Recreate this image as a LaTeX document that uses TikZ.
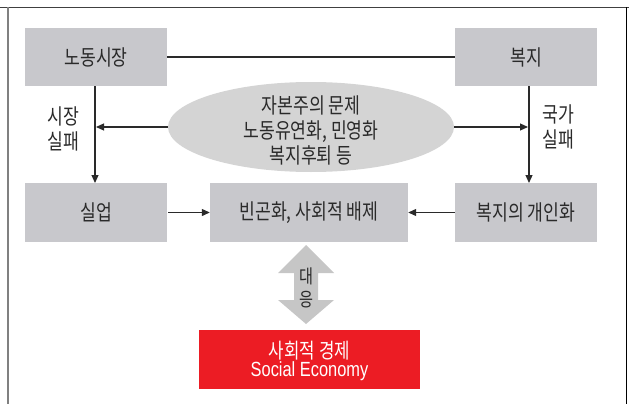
\documentclass[tikz,border=0pt]{standalone}
\usepackage{fontspec}
\setmainfont{Liberation Sans}
\newfontfamily\kr[FakeStretch=0.8]{Noto Sans CJK KR}
\newfontfamily\enc[FakeStretch=0.8]{Liberation Sans}
\usetikzlibrary{arrows.meta,shapes.geometric}
\definecolor{boxgray}{HTML}{C8C8CC}
\definecolor{ellgray}{HTML}{D4D4D4}
\definecolor{arrgray}{HTML}{C6C6C6}
\definecolor{sered}{HTML}{EC1C24}
\definecolor{txt}{HTML}{2A2A2A}
\begin{document}
\begin{tikzpicture}[x=1pt,y=-1pt,
  gbox/.style={fill=boxgray,draw=none,minimum width=142pt,minimum height=59pt,inner sep=0pt,text=txt,font=\kr\fontsize{21.5}{24}\selectfont},
  conn/.style={line width=1.2pt,txt},
  arr/.style={line width=1.2pt,txt,-{Triangle[length=8pt,width=7pt]}},
  lbl/.style={font=\kr\fontsize{21.5}{25}\selectfont,align=center,text=txt,inner sep=0pt}]
\useasboundingbox (0,0) rectangle (629,404);
% frame
\draw[line width=1.5pt,black!75] (0,7.5) -- (629,7.5);
\draw[line width=1.5pt,black!50] (8,7.5) -- (8,404);
\draw[line width=1pt,black] (626,7.5) -- (626,404);
% boxes
\node[gbox,minimum height=58pt] (lm) at (96,57) {노동시장};
\node[gbox,minimum height=58pt] (wf) at (526,57) {복지};
\node[gbox] (un) at (96,212.5) {실업};
\node[gbox,minimum width=198pt] (pov) at (309,212.5) {빈곤화, 사회적 배제};
\node[gbox] (ind) at (526,212.5) {복지의 개인화};
\node[ellipse,fill=ellgray,minimum width=286pt,minimum height=90pt,inner sep=0pt] (el) at (311,127) {};
\node[lbl] (elt) at (311,130) {자본주의 문제\\노동유연화, 민영화\\복지후퇴 등};
% connectors
\draw[conn] (lm.east) -- (wf.west);
\coordinate (lx) at (95,86);
\coordinate (rx) at (529,86);
\coordinate (lt) at (95,183);
\coordinate (rt) at (529,183);
\coordinate (la) at (96,127);
\coordinate (ra) at (528,127);
\draw[arr] (lx) -- (lt);
\draw[arr] (rx) -- (rt);
\draw[arr] (el.west) -- (la);
\draw[arr] (el.east) -- (ra);
\node[lbl] (sl) at (63,128.5) {시장\\실패};
\node[lbl] (gl) at (558,126.5) {국가\\실패};
\draw[arr] (un.east) ++(1,0) -- (pov.west);
\draw[arr] (ind.west) -- (pov.east);
% double arrow
\fill[arrgray] (306,245) -- (334,273) -- (318,273) -- (318,300) -- (334,300) -- (306,324)
  -- (278,300) -- (294,300) -- (294,273) -- (278,273) -- cycle;
\node[lbl,font=\kr\fontsize{19}{23}\selectfont] (dy) at (306,288) {대\\응};
% red box
\node[fill=sered,minimum width=221pt,minimum height=59pt,inner sep=0pt] (se) at (309.5,359.5) {};
\node[align=center,text=white,inner sep=0pt] (set) at (309.5,361)
  {{\kr\fontsize{21}{24}\selectfont 사회적 경제}\\{\enc\fontsize{20.5}{24}\selectfont Social Economy}};
\end{tikzpicture}
\end{document}
